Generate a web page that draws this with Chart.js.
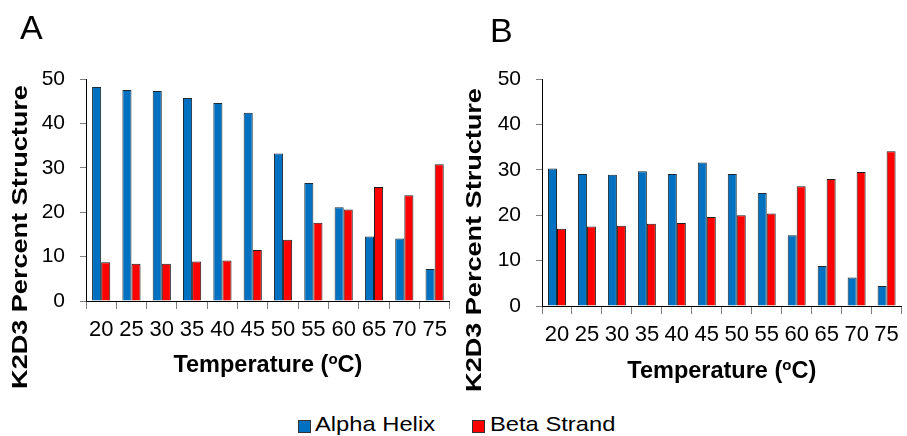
<!DOCTYPE html>
<html>
<head>
<meta charset="utf-8">
<script src="https://cdn.jsdelivr.net/npm/chart.js@4.4.1/dist/chart.umd.min.js"></script>
<style>
  html, body { margin: 0; padding: 0; background: #fff; }
  body { width: 907px; height: 436px; position: relative; overflow: hidden;
         font-family: "Liberation Sans", Arial, sans-serif; color: #000; }
  canvas { position: absolute; top: 0; }
  #chartA { left: 0; }
  #chartB { left: 455px; }
  .panel { position: absolute; font-size: 34px; line-height: 34px; }
  .swatch { position: absolute; width: 11px; height: 11px; border: 1px solid #333; top: 420px; }
  .lg { position: absolute; font-size: 21px; line-height: 24px; top: 412px; white-space: nowrap;
        transform: scaleX(1.13); transform-origin: 0 50%; }
</style>
</head>
<body>
<canvas id="chartA" width="455" height="400"></canvas>
<canvas id="chartB" width="452" height="410"></canvas>
<div class="panel" style="left:20px; top:10px;">A</div>
<div class="panel" style="left:490px; top:13px;">B</div>
<div class="swatch" style="left:298px; background:#0070C0;"></div>
<div class="lg" style="left:315px;">Alpha Helix</div>
<div class="swatch" style="left:472px; background:#FF0000;"></div>
<div class="lg" style="left:490px;">Beta Strand</div>
<script>
// Temperatures (°C) on the category axis
const temperatures = ['20', '25', '30', '35', '40', '45', '50', '55', '60', '65', '70', '75'];

// Panel A: percent secondary structure
const helixA  = [48.2, 47.5, 47.3, 45.7, 44.6, 42.4, 33.2, 26.6, 21.1, 14.5, 14.1, 7.2];
const strandA = [8.7, 8.4, 8.4, 8.9, 9.1, 11.5, 13.8, 17.6, 20.6, 25.7, 23.8, 30.8];

// Panel B: percent secondary structure
const helixB  = [30.3, 29.1, 28.9, 29.7, 29.1, 31.6, 29.1, 24.9, 15.6, 8.8, 6.3, 4.4];
const strandB = [17.0, 17.5, 17.7, 18.1, 18.3, 19.6, 20.0, 20.4, 26.4, 28.0, 29.5, 34.1];

const seriesNames = ['Alpha Helix', 'Beta Strand'];
const yAxisTitle = 'K2D3 Percent Structure';
const FONT = '"Liberation Sans", Arial, sans-serif';

// Axis titles: a stretched, rotated y title and an x title with a raised "o"
const axisTitles = {
  id: 'axisTitles',
  afterDraw(chart, args, o) {
    const ctx = chart.ctx;
    const area = chart.chartArea;
    ctx.save();
    ctx.fillStyle = '#000';
    // y title
    ctx.save();
    ctx.translate(o.yX, o.yY);
    ctx.rotate(-Math.PI / 2);
    ctx.scale(o.yStretch, 1);
    ctx.font = 'bold 22px ' + FONT;
    ctx.textAlign = 'center';
    ctx.textBaseline = 'middle';
    ctx.fillText(yAxisTitle, 0, 0);
    ctx.restore();
    // x title: "Temperature (" + superscript o + "C)"
    const big = 'bold 23.5px ' + FONT, small = 'bold 15px ' + FONT;
    ctx.font = big;
    const w1 = ctx.measureText('Temperature (').width;
    const w3 = ctx.measureText('C)').width;
    ctx.font = small;
    const w2 = ctx.measureText('o').width;
    let x = (area.left + area.right) / 2 - (w1 + w2 + w3) / 2;
    ctx.textAlign = 'left';
    ctx.textBaseline = 'alphabetic';
    ctx.font = big;
    ctx.fillText('Temperature (', x, o.xBase);
    x += w1;
    ctx.font = small;
    ctx.fillText('o', x, o.xBase - 8);
    x += w2;
    ctx.font = big;
    ctx.fillText('C)', x, o.xBase);
    ctx.restore();
  }
};

function makeChart(id, helix, strand, g) {
  return new Chart(document.getElementById(id), {
    type: 'bar',
    data: {
      labels: temperatures,
      datasets: [
        { label: seriesNames[0], data: helix, backgroundColor: '#0070C0',
          borderColor: '#1c2a36', borderWidth: 1 },
        { label: seriesNames[1], data: strand, backgroundColor: '#FF0000',
          borderColor: '#1e1e1e', borderWidth: 1 }
      ]
    },
    options: {
      responsive: false,
      animation: false,
      devicePixelRatio: 1,
      layout: { padding: { left: 0, right: g.padRight, top: g.padTop, bottom: 0 } },
      datasets: { bar: { categoryPercentage: 0.6, barPercentage: 1 } },
      plugins: {
        legend: { display: false },
        tooltip: { enabled: false },
        axisTitles: { yX: g.yX, yY: g.yY, yStretch: 1.23, xBase: g.xBase }
      },
      scales: {
        x: {
          grid: { offset: true, drawOnChartArea: false, tickLength: 8, color: '#7f7f7f' },
          border: { color: '#000', width: 1 },
          ticks: { font: { family: FONT, size: 22 }, color: '#000', padding: 8,
                   autoSkip: false, maxRotation: 0 },
          afterFit(s) { s.height = g.xHeight; }
        },
        y: {
          min: 0, max: 50,
          ticks: { stepSize: 10, font: { family: FONT, size: 21 }, color: '#000', padding: 15 },
          grid: { drawOnChartArea: false, tickLength: 6, color: '#7f7f7f' },
          border: { color: '#000', width: 1 },
          afterFit(s) { s.width = g.yWidth; }
        }
      }
    },
    plugins: [axisTitles]
  });
}

makeChart('chartA', helixA, strandA,
  { padRight: 3, padTop: 79, xHeight: 99, yWidth: 86, yX: 21, yY: 237, xBase: 371.5 });
makeChart('chartB', helixB, strandB,
  { padRight: 4, padTop: 79, xHeight: 104, yWidth: 87, yX: 20, yY: 240, xBase: 378 });
</script>
</body>
</html>
